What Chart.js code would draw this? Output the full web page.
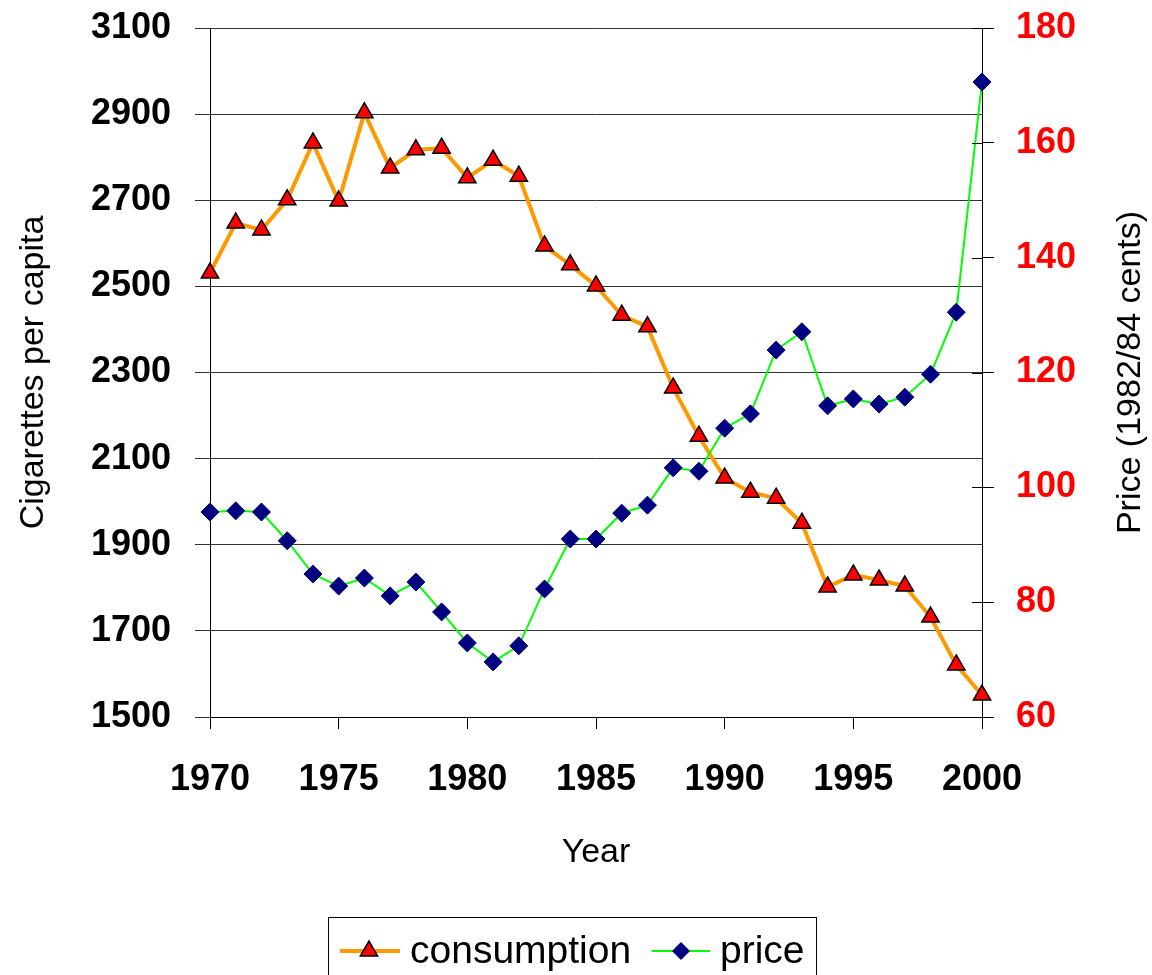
<!DOCTYPE html>
<html>
<head>
<meta charset="utf-8">
<title>Cigarette consumption and price</title>
<script src="https://cdn.jsdelivr.net/npm/chart.js@4/dist/chart.umd.min.js"></script>
<style>
    html, body { margin: 0; padding: 0; background: #fff; }
    #wrap { width: 1152px; height: 975px; }
</style>
</head>
<body>
<div id="wrap"><canvas id="chart" width="1152" height="975"></canvas></div>
<script>
// ================= DATA =================
const years = [1970, 1971, 1972, 1973, 1974, 1975, 1976, 1977, 1978, 1979,
               1980, 1981, 1982, 1983, 1984, 1985, 1986, 1987, 1988, 1989,
               1990, 1991, 1992, 1993, 1994, 1995, 1996, 1997, 1998, 1999, 2000];

const consumption = [2531, 2647, 2631, 2701, 2833, 2698, 2903, 2775, 2817, 2821,
                     2752, 2793, 2756, 2594, 2550, 2501, 2433, 2406, 2264, 2152,
                     2055, 2022, 2008, 1950, 1802, 1830, 1818, 1804, 1732, 1621, 1551];

const price = [95.7, 95.9, 95.7, 90.7, 84.9, 82.8, 84.2, 81.1, 83.5, 78.3,
               72.9, 69.6, 72.4, 82.3, 91.0, 91.0, 95.5, 96.9, 103.4, 102.8,
               110.3, 112.8, 123.9, 127.1, 114.2, 115.4, 114.5, 115.7, 119.7, 130.5, 170.6];

const leftTicks = [1500, 1700, 1900, 2100, 2300, 2500, 2700, 2900, 3100];
const rightTicks = [60, 80, 100, 120, 140, 160, 180];
const yearTicks = [1970, 1975, 1980, 1985, 1990, 1995, 2000];

const seriesNames = ["consumption", "price"];
const axisTitles = { x: "Year", left: "Cigarettes per capita", right: "Price (1982/84 cents)" };

// ================= STYLE =================
const FONT = "'Liberation Sans', Arial, sans-serif";
const ORANGE = "#FF9900";
const GREEN = "#00FF00";
const NAVY = "#000080";

// ================= PLUGINS =================
// right axis title reads bottom-to-top like the left one, and its ticks cross the axis line
const extrasPlugin = {
    id: "extras",
    afterDraw(chart) {
        const ctx = chart.ctx;
        const area = chart.chartArea;
        const y2 = chart.scales.y2;

        ctx.save();
        ctx.strokeStyle = "#000";
        ctx.lineWidth = 1;
        y2.ticks.forEach(t => {
            const py = Math.round(y2.getPixelForValue(t.value)) + 0.5;
            ctx.beginPath();
            ctx.moveTo(area.right - 10, py);
            ctx.lineTo(area.right, py);
            ctx.stroke();
        });

        ctx.fillStyle = "#000";
        ctx.font = "34px " + FONT;
        ctx.textAlign = "center";
        ctx.textBaseline = "middle";
        ctx.translate(1131, (area.top + area.bottom) / 2);
        ctx.rotate(-Math.PI / 2);
        ctx.fillText(axisTitles.right, 0, 0);
        ctx.restore();

        // legend
        ctx.save();
        ctx.strokeStyle = "#000";
        ctx.lineWidth = 1;
        ctx.strokeRect(328.5, 917.5, 488, 80);

        const ly = 951;
        ctx.strokeStyle = ORANGE;
        ctx.lineWidth = 4;
        ctx.beginPath();
        ctx.moveTo(340, ly);
        ctx.lineTo(400, ly);
        ctx.stroke();
        const r = 10;
        ctx.beginPath();
        ctx.moveTo(369, ly - r);
        ctx.lineTo(369 + r * Math.sin(2 * Math.PI / 3), ly - r * Math.cos(2 * Math.PI / 3));
        ctx.lineTo(369 + r * Math.sin(4 * Math.PI / 3), ly - r * Math.cos(4 * Math.PI / 3));
        ctx.closePath();
        ctx.fillStyle = "#FF0000";
        ctx.fill();
        ctx.strokeStyle = "#000";
        ctx.lineWidth = 1.5;
        ctx.stroke();

        ctx.strokeStyle = GREEN;
        ctx.lineWidth = 2;
        ctx.beginPath();
        ctx.moveTo(652, ly);
        ctx.lineTo(710, ly);
        ctx.stroke();
        const d = 9;
        ctx.beginPath();
        ctx.moveTo(681, ly - d);
        ctx.lineTo(681 + d, ly);
        ctx.lineTo(681, ly + d);
        ctx.lineTo(681 - d, ly);
        ctx.closePath();
        ctx.fillStyle = NAVY;
        ctx.fill();

        ctx.fillStyle = "#000";
        ctx.font = "39px " + FONT;
        ctx.textAlign = "left";
        ctx.textBaseline = "middle";
        ctx.fillText(seriesNames[0], 410, ly + 1);
        ctx.fillText(seriesNames[1], 720, ly + 1);
        ctx.restore();
    }
};

// fixed axis boxes so the plot area sits where the reference has it
function fixWidth(w) {
    return s => { s.width = w; s.paddingTop = 0; s.paddingBottom = 0; };
}

// ================= CHART =================
const ctx = document.getElementById("chart");

new Chart(ctx, {
    type: "line",
    data: {
        datasets: [
            {
                label: seriesNames[1],
                data: years.map((y, i) => ({ x: y, y: price[i] })),
                yAxisID: "y2",
                borderColor: GREEN,
                borderWidth: 2,
                pointStyle: "rectRot",
                pointRadius: 9,
                pointBackgroundColor: NAVY,
                pointBorderColor: NAVY,
                pointBorderWidth: 1,
                clip: false,
                order: 0
            },
            {
                label: seriesNames[0],
                data: years.map((y, i) => ({ x: y, y: consumption[i] })),
                yAxisID: "y",
                borderColor: ORANGE,
                borderWidth: 4,
                pointStyle: "triangle",
                pointRadius: 10,
                pointBackgroundColor: "#FF0000",
                pointBorderColor: "#000",
                pointBorderWidth: 1.5,
                clip: false,
                order: 1
            }
        ]
    },
    options: {
        responsive: false,
        animation: false,
        devicePixelRatio: 1,
        layout: { padding: { top: 28, bottom: 98, left: 0, right: 0 } },
        plugins: {
            legend: { display: false },
            tooltip: { enabled: false }
        },
        scales: {
            x: {
                type: "linear",
                min: 1970,
                max: 2000,
                afterBuildTicks: s => { s.ticks = yearTicks.map(v => ({ value: v })); },
                afterFit: s => { s.height = 160; s.paddingLeft = 0; s.paddingRight = 0; },
                ticks: {
                    callback: v => String(v),
                    color: "#000",
                    font: { family: FONT, size: 36, weight: "bold" },
                    padding: 29,
                    maxRotation: 0
                },
                grid: { drawOnChartArea: false, tickLength: 12, color: "#000" },
                border: { display: true, color: "#000", width: 1 },
                title: {
                    display: true,
                    text: axisTitles.x,
                    color: "#000",
                    font: { family: FONT, size: 34 },
                    padding: { top: 0, bottom: 4 }
                }
            },
            y: {
                position: "left",
                min: 1500,
                max: 3100,
                afterBuildTicks: s => { s.ticks = leftTicks.map(v => ({ value: v })); },
                afterFit: fixWidth(210),
                ticks: {
                    callback: v => String(v),
                    color: "#000",
                    font: { family: FONT, size: 36, weight: "bold" },
                    padding: 24
                },
                grid: { color: "#333", tickLength: 15 },
                border: { display: true, color: "#000", width: 1 },
                title: {
                    display: true,
                    text: axisTitles.left,
                    color: "#000",
                    font: { family: FONT, size: 34 },
                    padding: { top: 13, bottom: 0 }
                }
            },
            y2: {
                position: "right",
                min: 60,
                max: 180,
                afterBuildTicks: s => { s.ticks = rightTicks.map(v => ({ value: v })); },
                afterFit: fixWidth(170),
                ticks: {
                    callback: v => String(v),
                    color: "#FF0000",
                    font: { family: FONT, size: 36, weight: "bold" },
                    padding: 22
                },
                grid: { drawOnChartArea: false, tickLength: 12, color: "#000" },
                border: { display: true, color: "#000", width: 1 }
            }
        }
    },
    plugins: [extrasPlugin]
});
</script>
</body>
</html>
